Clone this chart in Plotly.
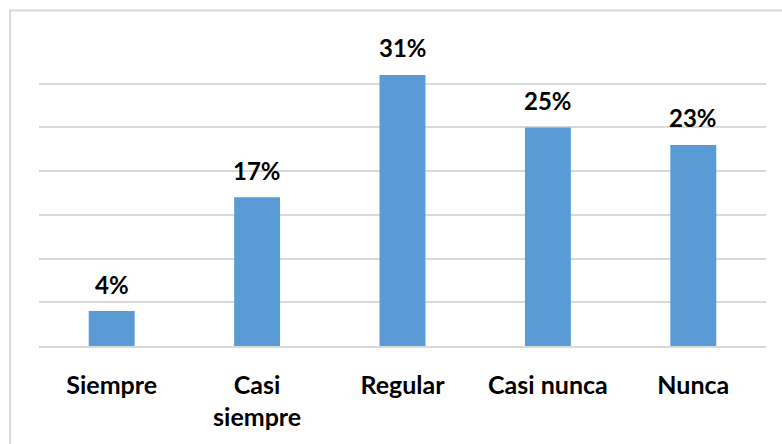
import plotly.graph_objects as go

# Survey response frequency
categories = ["Siempre", "Casi siempre", "Regular", "Casi nunca", "Nunca"]
tick_text = ["Siempre", "Casi<br>siempre", "Regular", "Casi nunca", "Nunca"]
percentages = [4, 17, 31, 25, 23]

W, H = 782, 444
L, R, T, B = 39, 16, 39.5, 98
plot_w = W - L - R
plot_h = H - T - B

font_family = "Lato, 'Open Sans', 'DejaVu Sans', sans-serif"

fig = go.Figure()
fig.add_trace(go.Bar(
    x=categories,
    y=percentages,
    marker=dict(color="#5b9bd5", line=dict(width=0)),
    hoverinfo="skip",
))

# Value labels above each bar
for cat, val in zip(categories, percentages):
    fig.add_annotation(
        x=cat, y=val, text=f"<b>{val}%</b>", showarrow=False,
        yshift=27, font=dict(family=font_family, size=24, color="#000000"),
    )

# Outer frame of the chart area
fig.add_shape(
    type="rect", xref="paper", yref="paper",
    x0=(10 - L) / plot_w, x1=1.2,
    y0=-0.6, y1=(H - B - 10) / plot_h,
    line=dict(color="#d9d9d9", width=2), layer="below",
)

fig.update_layout(
    width=W, height=H,
    margin=dict(l=L, r=R, t=T, b=B),
    paper_bgcolor="white", plot_bgcolor="white",
    bargap=0.684,
    showlegend=False,
    font=dict(family=font_family, size=25, color="#000000"),
)
fig.update_xaxes(
    tickmode="array", tickvals=categories,
    ticktext=[f"<b>{t}</b>" for t in tick_text],
    tickfont=dict(family=font_family, size=25, color="#000000"),
    showline=True, linecolor="#d9d9d9", linewidth=1.5,
    ticks="", ticklabelstandoff=16,
)
fig.update_yaxes(
    range=[0, 35], dtick=5, showticklabels=False,
    showgrid=True, gridcolor="#d9d9d9", gridwidth=1.5,
    zeroline=False,
)

fig.write_html("out.html")
